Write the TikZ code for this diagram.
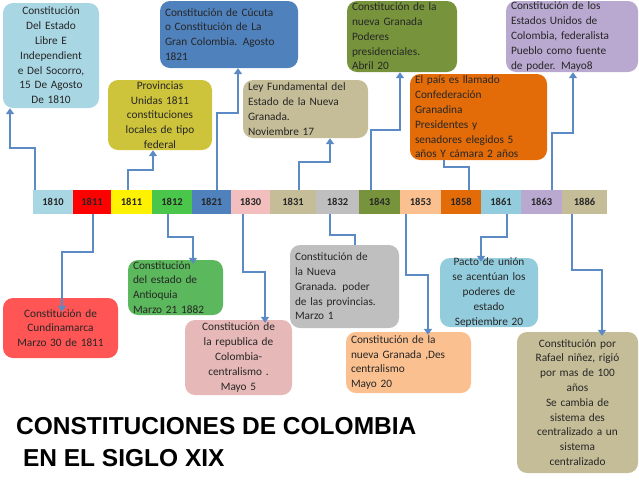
\documentclass[tikz,border=0pt]{standalone}
\usepackage{fontspec}
\setmainfont{Carlito}
\newfontfamily\titlefont{Liberation Sans}
\usetikzlibrary{arrows.meta}
\definecolor{cA}{HTML}{A9D6E3}
\definecolor{cB}{HTML}{CEC43C}
\definecolor{cC}{HTML}{4F81BD}
\definecolor{cD}{HTML}{C4BD97}
\definecolor{cE}{HTML}{77933C}
\definecolor{cF}{HTML}{E36C09}
\definecolor{cG}{HTML}{B9A9D0}
\definecolor{cH}{HTML}{FF5555}
\definecolor{cI}{HTML}{5CB85C}
\definecolor{cJ}{HTML}{E6B8B7}
\definecolor{cK}{HTML}{BFBFBF}
\definecolor{cL}{HTML}{FAC090}
\definecolor{cM}{HTML}{93CDDD}
\definecolor{cN}{HTML}{C4BD97}
\definecolor{lineblue}{HTML}{5B8AC4}
\definecolor{txt}{HTML}{262626}
\newcommand{\bx}[8]{%
  \node[box,fill=#6,align=#7,minimum width={#4-#2},minimum height={#5-#3},text width={#4-#2-10}]
    (#1) at ({(#2+#4)/2},{(#3+#5)/2}) {#8};}
\newcommand{\cell}[5]{%
  \node[cellst,fill=#4,minimum width={#3-#2}] (#1) at ({(#2+#3)/2},202) {#5};}
\begin{document}
\begin{tikzpicture}[x=1pt,y=-1pt,
  box/.style={rounded corners=10pt,draw=none,inner sep=0pt,font=\fontsize{11.3}{14.8}\selectfont,text=txt},
  cellst/.style={minimum height=24,inner sep=0pt,font=\fontsize{10.5}{11}\selectfont\bfseries,text=txt},
  arr/.style={draw=lineblue,line width=2.2pt,-{Triangle[width=8pt,length=6pt]}},
  ln/.style={draw=lineblue,line width=2.2pt}]
\useasboundingbox (0,0) rectangle (639,480);
% timeline
\cell{c1810}{33}{73}{cA}{1810}
\cell{c1811a}{73}{111}{red}{1811}
\cell{c1811b}{111}{152}{yellow}{1811}
\cell{c1812}{152}{192}{cI!80!green}{1812}
\cell{c1821}{192}{231}{cC}{1821}
\cell{c1830}{231}{270}{cJ!80!red!60!white}{1830}
\cell{c1831}{270}{316}{cD}{1831}
\cell{c1832}{316}{359}{cK}{1832}
\cell{c1843}{359}{400}{cE}{1843}
\cell{c1853}{400}{441}{cL}{1853}
\cell{c1858}{441}{481}{cF}{1858}
\cell{c1861}{481}{521}{cM}{1861}
\cell{c1863}{521}{562}{cG}{1863}
\cell{c1886}{562}{607}{cD}{1886}
% top boxes
\bx{A}{3}{3}{99}{108}{cA}{center}{Constitución\\Del Estado\\Libre E\\Independient\\e Del Socorro,\\15 De Agosto\\De 1810}
\bx{B}{108}{80}{212}{150}{cB}{center}{Provincias\\Unidas 1811\\constituciones\\locales de tipo\\federal}
\bx{C}{160}{1}{298}{68}{cC}{left}{Constitución de Cúcuta\\o Constitución de La\\Gran Colombia. Agosto\\1821}
\bx{D}{243}{80}{368}{138}{cD}{left}{Ley Fundamental del\\Estado de la Nueva\\Granada.\\Noviembre 17}
\bx{E}{347}{1}{457}{72}{cE}{left}{Constitución de la\\nueva Granada\\Poderes\\presidenciales.\\Abril 20}
\bx{F}{410}{74}{547}{160}{cF}{left}{El país es llamado\\Confederación\\Granadina\\Presidentes y\\senadores elegidos 5\\años Y cámara 2 años}
\bx{G}{506}{1}{638}{72}{cG}{left}{Constitución de los\\Estados Unidos de\\Colombia, federalista\\Pueblo como fuente\\de poder. Mayo8}
% bottom boxes
\bx{H}{3}{298}{118}{358}{cH}{center}{Constitución de\\Cundinamarca\\Marzo 30 de 1811}
\bx{I}{128}{260}{223}{315}{cI}{left}{Constitución\\del estado de\\Antioquia\\Marzo 21 1882}
\bx{J}{185}{320}{292}{395}{cJ}{center}{Constitución de\\la republica de\\Colombia-\\centralismo .\\Mayo 5}
\bx{K}{290}{245}{399}{328}{cK}{left}{Constitución de\\la Nueva\\Granada. poder\\de las provincias.\\Marzo 1}
\bx{L}{346}{332}{471}{393}{cL}{left}{Constitución de la\\nueva Granada ,Des\\centralismo\\Mayo 20}
\bx{M}{440}{258}{538}{327}{cM}{center}{Pacto de unión\\se acentúan los\\poderes de\\estado\\Septiembre 20}
\bx{N}{517}{332}{638}{473}{cN}{center}{Constitución por\\Rafael niñez, rigió\\por mas de 100\\años\\Se cambia de\\sistema des\\centralizado a un\\sistema\\centralizado}
% connectors up
\draw[arr] (c1810.north -| 35,0) -- (35,148) -- (10,148) -- (A.south -| 10,0);
\draw[arr] (c1811b.north -| 128,0) -- (128,170) -- (153,170) -- (B.south -| 153,0);
\draw[arr] (c1821.north -| 217,0) -- (217,113) -- (238,113) -- (C.south -| 238,0);
\draw[arr] (c1831.north -| 299,0) -- (299,162) -- (330,162) -- (D.south -| 330,0);
\draw[arr] (c1843.north -| 371,0) -- (371,130) -- (400,130) -- (E.south -| 400,0);
\draw[ln] (c1858.north -| 469,0) -- (469,167) -- (444,167) -- (F.south -| 444,0);
\draw[arr] (c1863.north -| 552,0) -- (552,133) -- (573,133) -- (G.south -| 573,0);
% connectors down
\draw[arr] (c1811a.south -| 93,0) -- (93,252) -- (62,252) -- ([yshift=-14pt]H.north -| 62,0);
\draw[arr] (c1812.south -| 168,0) -- (168,237) -- (193,237) -- ([yshift=-4pt]I.north -| 193,0);
\draw[arr] (c1830.south -| 243,0) -- (243,272) -- (265,272) -- ([yshift=-3pt]J.north -| 265,0);
\draw[ln] (c1832.south -| 330,0) -- (330,235) -- (355,235) -- (K.north -| 355,0);
\draw[arr] (c1853.south -| 406,0) -- (406,275) -- (428,275) -- ([yshift=-3pt]L.north -| 428,0);
\draw[arr] (c1861.south -| 507,0) -- (507,237) -- (481,237) -- ([yshift=-4pt]M.north -| 481,0);
\draw[arr] (c1886.south -| 572,0) -- (572,270) -- (602,270) -- ([yshift=-4pt]N.north -| 602,0);
% title
\node[anchor=base west,font=\titlefont\bfseries\fontsize{24.5}{26}\selectfont,inner sep=0pt] (T1) at (16,434) {CONSTITUCIONES DE COLOMBIA};
\node[anchor=base west,font=\titlefont\bfseries\fontsize{24.5}{26}\selectfont,inner sep=0pt] (T2) at (16,466) {\ EN EL SIGLO XIX};
\end{tikzpicture}
\end{document}
